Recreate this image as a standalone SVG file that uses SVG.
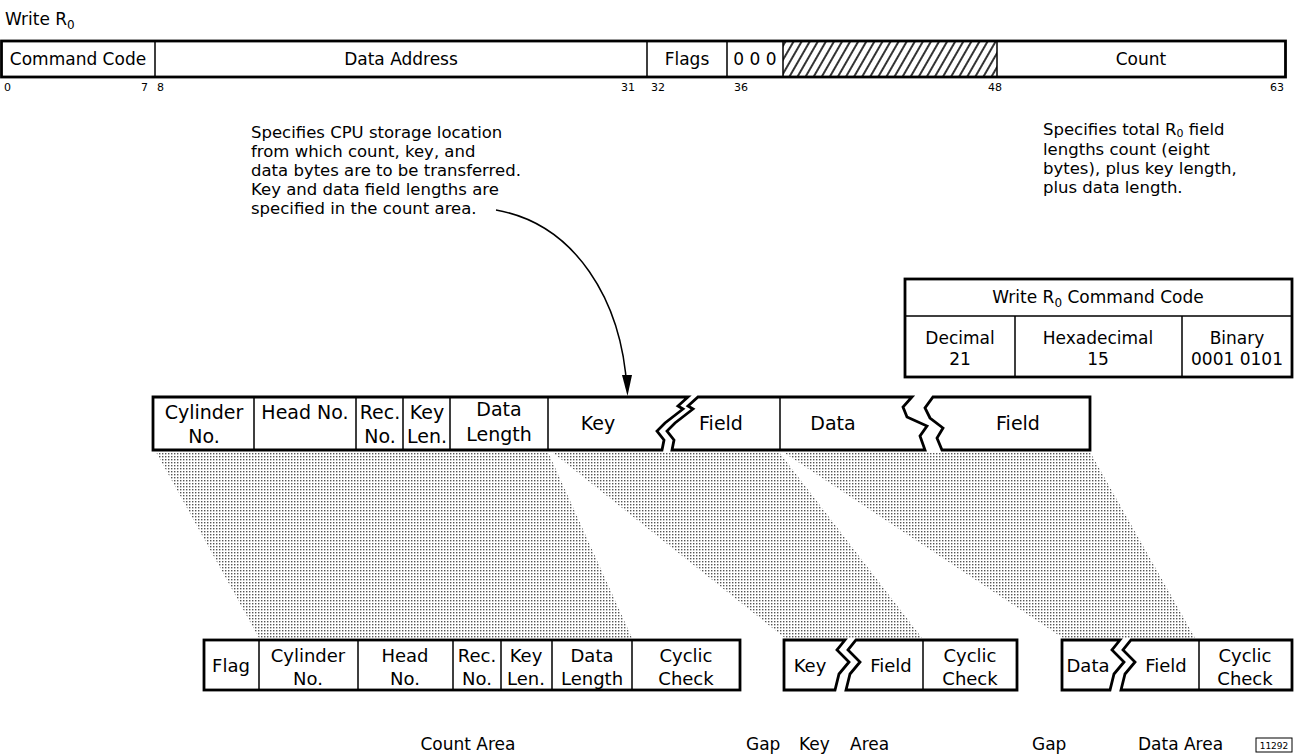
<svg xmlns="http://www.w3.org/2000/svg" width="1298" height="755" viewBox="0 0 1298 755">
<defs>
<pattern id="dots" width="3" height="3" patternUnits="userSpaceOnUse"><rect x="0" y="0" width="1.4" height="1.4" fill="#555"/></pattern>
<pattern id="hatch" width="7" height="10" patternUnits="userSpaceOnUse" patternTransform="rotate(30)"><line x1="1" y1="0" x2="1" y2="10" stroke="#000" stroke-width="1.6"/></pattern>
<style>
text{font-family:"DejaVu Sans","Liberation Sans",sans-serif;fill:#000}
.t{font-size:17px}
.a{font-size:16.5px}
.c{text-anchor:middle}
.b{font-size:11px}
.n{font-size:19px}
.m{font-size:18px}
.box{fill:#fff;stroke:#000;stroke-width:2.8}
.div{stroke:#000;stroke-width:1.5;fill:none}
.band{fill:url(#dots);stroke:none}
</style>
</defs>
<rect width="1298" height="755" fill="#fff"/>

<g id="connectors">
<polygon class="band" points="156,452 548,452 632,638 259,638"/>
<polygon class="band" points="552,452 779,452 922,638 785,638"/>
<polygon class="band" points="783,452 1090,452 1195,638 1063,638"/>
<path d="M496,210 C575,224 622,300 627,390" fill="none" stroke="#000" stroke-width="1.5"/>
<path d="M622,375 L632,375 L627.5,396 Z" fill="#000"/>
</g>

<g id="title"><text x="5" y="25" class="t">Write R<tspan dy="4" font-size="12">0</tspan></text></g>

<g id="ccw">
<rect x="1.5" y="41" width="1284" height="36" class="box"/>
<rect x="783" y="42" width="214" height="34" fill="url(#hatch)"/>
<path class="div" d="M155,41V77M647,41V77M727,41V77M783,41V77M997,41V77"/>
<text x="78" y="65" class="t c">Command Code</text>
<text x="401" y="65" class="t c">Data Address</text>
<text x="687" y="65" class="t c">Flags</text>
<text x="755" y="65" class="t c">0 0 0</text>
<text x="1141" y="65" class="t c">Count</text>
</g>

<g id="bits">
<text x="4" y="91" class="b">0</text>
<text x="141" y="91" class="b">7</text>
<text x="157" y="91" class="b">8</text>
<text x="621" y="91" class="b">31</text>
<text x="651" y="91" class="b">32</text>
<text x="734" y="91" class="b">36</text>
<text x="988" y="91" class="b">48</text>
<text x="1270" y="91" class="b">63</text>
</g>

<g id="note-address">
<text x="251" y="138" class="a">Specifies CPU storage location</text>
<text x="251" y="157" class="a">from which count, key, and</text>
<text x="251" y="176" class="a">data bytes are to be transferred.</text>
<text x="251" y="195" class="a">Key and data field lengths are</text>
<text x="251" y="214" class="a">specified in the count area.</text>
</g>

<g id="note-count">
<text x="1043" y="135" class="a">Specifies total R<tspan dy="2" font-size="11">0</tspan><tspan dy="-2"> field</tspan></text>
<text x="1043" y="155" class="a">lengths count (eight</text>
<text x="1043" y="174" class="a">bytes), plus key length,</text>
<text x="1043" y="193" class="a">plus data length.</text>
</g>

<g id="table">
<rect x="905" y="279" width="387" height="98" class="box"/>
<path class="div" d="M905,316H1292M1015,316V377M1182,316V377"/>
<text x="1098" y="303" class="t c">Write R<tspan dy="4" font-size="12">0</tspan><tspan dy="-4"> Command Code</tspan></text>
<text x="960" y="344" class="t c">Decimal</text>
<text x="1098" y="344" class="t c">Hexadecimal</text>
<text x="1237" y="344" class="t c">Binary</text>
<text x="960" y="365" class="t c">21</text>
<text x="1098" y="365" class="t c">15</text>
<text x="1237" y="365" class="t c">0001 0101</text>
</g>

<g id="record">
<path class="box" d="M153,397H688L678,406L683,409L665,423L657,431L664,440L662,450H153Z"/>
<path class="box" d="M698,397H912L903,407L907,417L927,426L920,436L925,450H672L674,440L667,431L675,423L693,409L688,406Z"/>
<path class="box" d="M933,397H1090V450H942L937,438L943,428L930,418L925,408Z"/>
<path class="div" d="M254,397V450M356,397V450M403,397V450M450,397V450M548,397V450M780,397V450"/>
<text x="204" y="419" class="n c">Cylinder</text><text x="204" y="443" class="n c">No.</text>
<text x="305" y="419" class="n c">Head No.</text>
<text x="380" y="419" class="n c">Rec.</text><text x="380" y="443" class="n c">No.</text>
<text x="427" y="419" class="n c">Key</text><text x="427" y="443" class="n c">Len.</text>
<text x="499" y="416" class="n c">Data</text><text x="499" y="441" class="n c">Length</text>
<text x="598" y="430" class="n c">Key</text>
<text x="721" y="430" class="n c">Field</text>
<text x="833" y="430" class="n c">Data</text>
<text x="1018" y="430" class="n c">Field</text>
</g>

<g id="count-area">
<rect x="204" y="640" width="536" height="50" class="box"/>
<path class="div" d="M259,640V690M358,640V690M453,640V690M501,640V690M552,640V690M632,640V690"/>
<text x="231" y="672" class="m c">Flag</text>
<text x="308" y="662" class="m c">Cylinder</text><text x="308" y="685" class="m c">No.</text>
<text x="405" y="662" class="m c">Head</text><text x="405" y="685" class="m c">No.</text>
<text x="477" y="662" class="m c">Rec.</text><text x="477" y="685" class="m c">No.</text>
<text x="526" y="662" class="m c">Key</text><text x="526" y="685" class="m c">Len.</text>
<text x="592" y="662" class="m c">Data</text><text x="592" y="685" class="m c">Length</text>
<text x="686" y="662" class="m c">Cyclic</text><text x="686" y="685" class="m c">Check</text>
</g>

<g id="key-area">
<path class="box" d="M784,640H845L837,650L849,662L839,674L835,690H784Z"/>
<path class="box" d="M856,640H1017V690H846L850,674L860,662L848,650Z"/>
<path class="div" d="M923,640V690"/>
<text x="810" y="672" class="m c">Key</text>
<text x="891" y="672" class="m c">Field</text>
<text x="970" y="662" class="m c">Cyclic</text><text x="970" y="685" class="m c">Check</text>
</g>

<g id="data-area">
<path class="box" d="M1062,640H1120L1112,650L1124,662L1114,674L1110,690H1062Z"/>
<path class="box" d="M1131,640H1292V690H1121L1125,674L1135,662L1123,650Z"/>
<path class="div" d="M1199,640V690"/>
<text x="1088" y="672" class="m c">Data</text>
<text x="1166" y="672" class="m c">Field</text>
<text x="1245" y="662" class="m c">Cyclic</text><text x="1245" y="685" class="m c">Check</text>
</g>

<g id="labels">
<text x="468" y="750" class="t c">Count Area</text>
<text x="746" y="750" class="t">Gap</text>
<text x="799" y="750" class="t">Key</text>
<text x="850" y="750" class="t">Area</text>
<text x="1032" y="750" class="t">Gap</text>
<text x="1138" y="750" class="t">Data Area</text>
</g>

<g id="figno">
<rect x="1256" y="738" width="36" height="14" fill="#fff" stroke="#000" stroke-width="1"/>
<text x="1274" y="749" class="c" font-size="9">11292</text>
</g>
</svg>
